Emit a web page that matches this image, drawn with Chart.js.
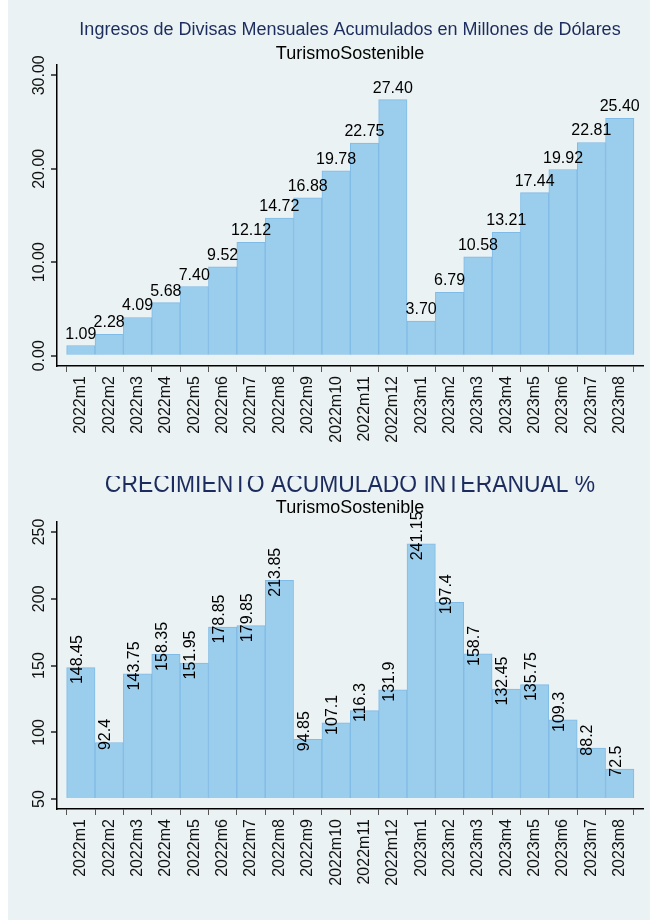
<!DOCTYPE html>
<html>
<head>
<meta charset="utf-8">
<script src="https://cdn.jsdelivr.net/npm/chart.js@4"></script>
<style>
  html, body { margin: 0; padding: 0; background: #ffffff; }
  #graph { position: absolute; left: 8px; top: 0; width: 642px; height: 920px; background: #eaf2f3; }
  #chart-ingresos { position: absolute; left: 0; top: 0; }
  #chart-crecimiento { position: absolute; left: 0; top: 476px; }
</style>
</head>
<body>
<div id="graph">
  <canvas id="chart-ingresos" width="642" height="476"></canvas>
  <canvas id="chart-crecimiento" width="642" height="444"></canvas>
</div>
<script>
const categories = [
  "2022m1", "2022m2", "2022m3", "2022m4", "2022m5", "2022m6", "2022m7",
  "2022m8", "2022m9", "2022m10", "2022m11", "2022m12",
  "2023m1", "2023m2", "2023m3", "2023m4", "2023m5", "2023m6", "2023m7", "2023m8",
];
const ingresos = [
  1.09, 2.28, 4.09, 5.68, 7.4, 9.52, 12.12, 14.72, 16.88, 19.78, 22.75, 27.4,
  3.7, 6.79, 10.58, 13.21, 17.44, 19.92, 22.81, 25.4,
];
const crecimiento = [
  148.45, 92.4, 143.75, 158.35, 151.95, 178.85, 179.85, 213.85, 94.85, 107.1,
  116.3, 131.9, 241.15, 197.4, 158.7, 132.45, 135.75, 109.3, 88.2, 72.5,
];
const ingresosTicks = [0, 10, 20, 30];
const crecimientoTicks = [50, 100, 150, 200, 250];

const FONT = "'Liberation Sans', Arial, sans-serif";
const NAVY = "#1c2c5e";
const BAR_FILL = "rgb(155, 205, 236)";
const BAR_EDGE = "rgb(128, 187, 230)";

// titles, y tick labels and bar labels drawn on the canvas
const stataText = {
  id: "stataText",
  afterDatasetsDraw(chart, args, opts) {
    const ctx = chart.ctx;
    const yScale = chart.scales.y;
    const cx = 342;
    ctx.save();
    ctx.fillStyle = NAVY;
    ctx.textAlign = "center";
    ctx.textBaseline = "alphabetic";
    ctx.save();
    ctx.translate(cx, opts.titleY);
    ctx.scale(opts.titleStretch, 1);
    ctx.font = `${opts.titleSize}px ${FONT}`;
    ctx.fillText(opts.title, 0, 0);
    ctx.restore();
    ctx.fillStyle = "#000";
    ctx.font = `18px ${FONT}`;
    ctx.fillText("TurismoSostenible", cx, opts.subtitleY);

    // y tick labels, rotated
    ctx.font = `16px ${FONT}`;
    ctx.fillStyle = "#111";
    opts.ticks.forEach((v) => {
      const y = yScale.getPixelForValue(v);
      ctx.save();
      ctx.translate(35.5, y);
      ctx.rotate(-Math.PI / 2);
      ctx.textAlign = "center";
      ctx.fillText(opts.tickFormat(v), 0, 0);
      ctx.restore();
    });

    // bar labels
    const meta = chart.getDatasetMeta(0);
    const values = chart.data.datasets[0].data;
    ctx.fillStyle = "#000";
    meta.data.forEach((bar, i) => {
      const text = opts.labelFormat(values[i].y);
      if (opts.vertical) {
        ctx.save();
        ctx.translate(bar.x + 1, bar.y - 8);
        ctx.rotate(-Math.PI / 2);
        ctx.textAlign = "center";
        ctx.fillText(text, 0, 0);
        ctx.restore();
      } else {
        ctx.textAlign = "center";
        ctx.fillText(text, bar.x, bar.y - 7);
      }
    });
    ctx.restore();
  },
};

function buildChart(canvasId, values, yMin, yMax, yTicks, base, padding, textOpts) {
  const ctx = document.getElementById(canvasId).getContext("2d");
  return new Chart(ctx, {
    type: "bar",
    data: {
      datasets: [
        {
          data: values.map((v, i) => ({ x: i + 1, y: v })),
          base: base,
          backgroundColor: BAR_FILL,
          borderColor: BAR_EDGE,
          borderWidth: 1,
          barPercentage: 1,
          categoryPercentage: 1,
        },
      ],
    },
    options: {
      responsive: false,
      animation: false,
      devicePixelRatio: 1,
      layout: { padding: padding },
      plugins: {
        legend: { display: false },
        tooltip: { enabled: false },
        stataText: textOpts,
      },
      scales: {
        x: {
          type: "linear",
          offset: false,
          min: 0.16,
          max: 20.82,
          afterBuildTicks: (scale) => {
            scale.ticks = categories.map((c, i) => ({ value: i + 1 }));
          },
          afterFit: (scale) => {
            scale.height = 80;
          },
          ticks: {
            autoSkip: false,
            minRotation: 90,
            maxRotation: 90,
            padding: 4,
            color: "#111",
            font: { family: FONT, size: 16 },
            callback: (v) => categories[v - 1],
          },
          grid: {
            drawOnChartArea: false,
            drawTicks: true,
            tickLength: 6,
            tickColor: "#555",
          },
          border: { display: true, color: "#000", width: 1.5 },
        },
        y: {
          min: yMin,
          max: yMax,
          afterBuildTicks: (scale) => {
            scale.ticks = yTicks.map((v) => ({ value: v }));
          },
          afterFit: (scale) => {
            scale.width = 49;
          },
          ticks: { display: false },
          grid: {
            color: "#eaf2f3",
            lineWidth: 2,
            drawTicks: true,
            tickLength: 6,
            tickColor: "#555",
          },
          border: { display: true, color: "#000", width: 1.5 },
        },
      },
    },
    plugins: [stataText],
  });
}

buildChart(
  "chart-ingresos",
  ingresos,
  -1.1,
  31.1,
  ingresosTicks,
  undefined,
  { top: 65, left: 0, right: 7, bottom: 30 },
  {
    title: "Ingresos de Divisas Mensuales Acumulados en Millones de Dólares",
    titleSize: 18,
    titleStretch: 1,
    titleY: 35,
    subtitleY: 59,
    ticks: ingresosTicks,
    tickFormat: (v) => v.toFixed(2),
    labelFormat: (v) => v.toFixed(2),
    vertical: false,
  },
);

buildChart(
  "chart-crecimiento",
  crecimiento,
  42.6,
  257.5,
  crecimientoTicks,
  50,
  { top: 46, left: 0, right: 7, bottom: 31 },
  {
    title: "CRECIMIENTO ACUMULADO INTERANUAL %",
    titleSize: 26,
    titleStretch: 0.88,
    titleY: 16,
    subtitleY: 37,
    ticks: crecimientoTicks,
    tickFormat: (v) => String(v),
    labelFormat: (v) => String(v),
    vertical: true,
  },
);
</script>
</body>
</html>
